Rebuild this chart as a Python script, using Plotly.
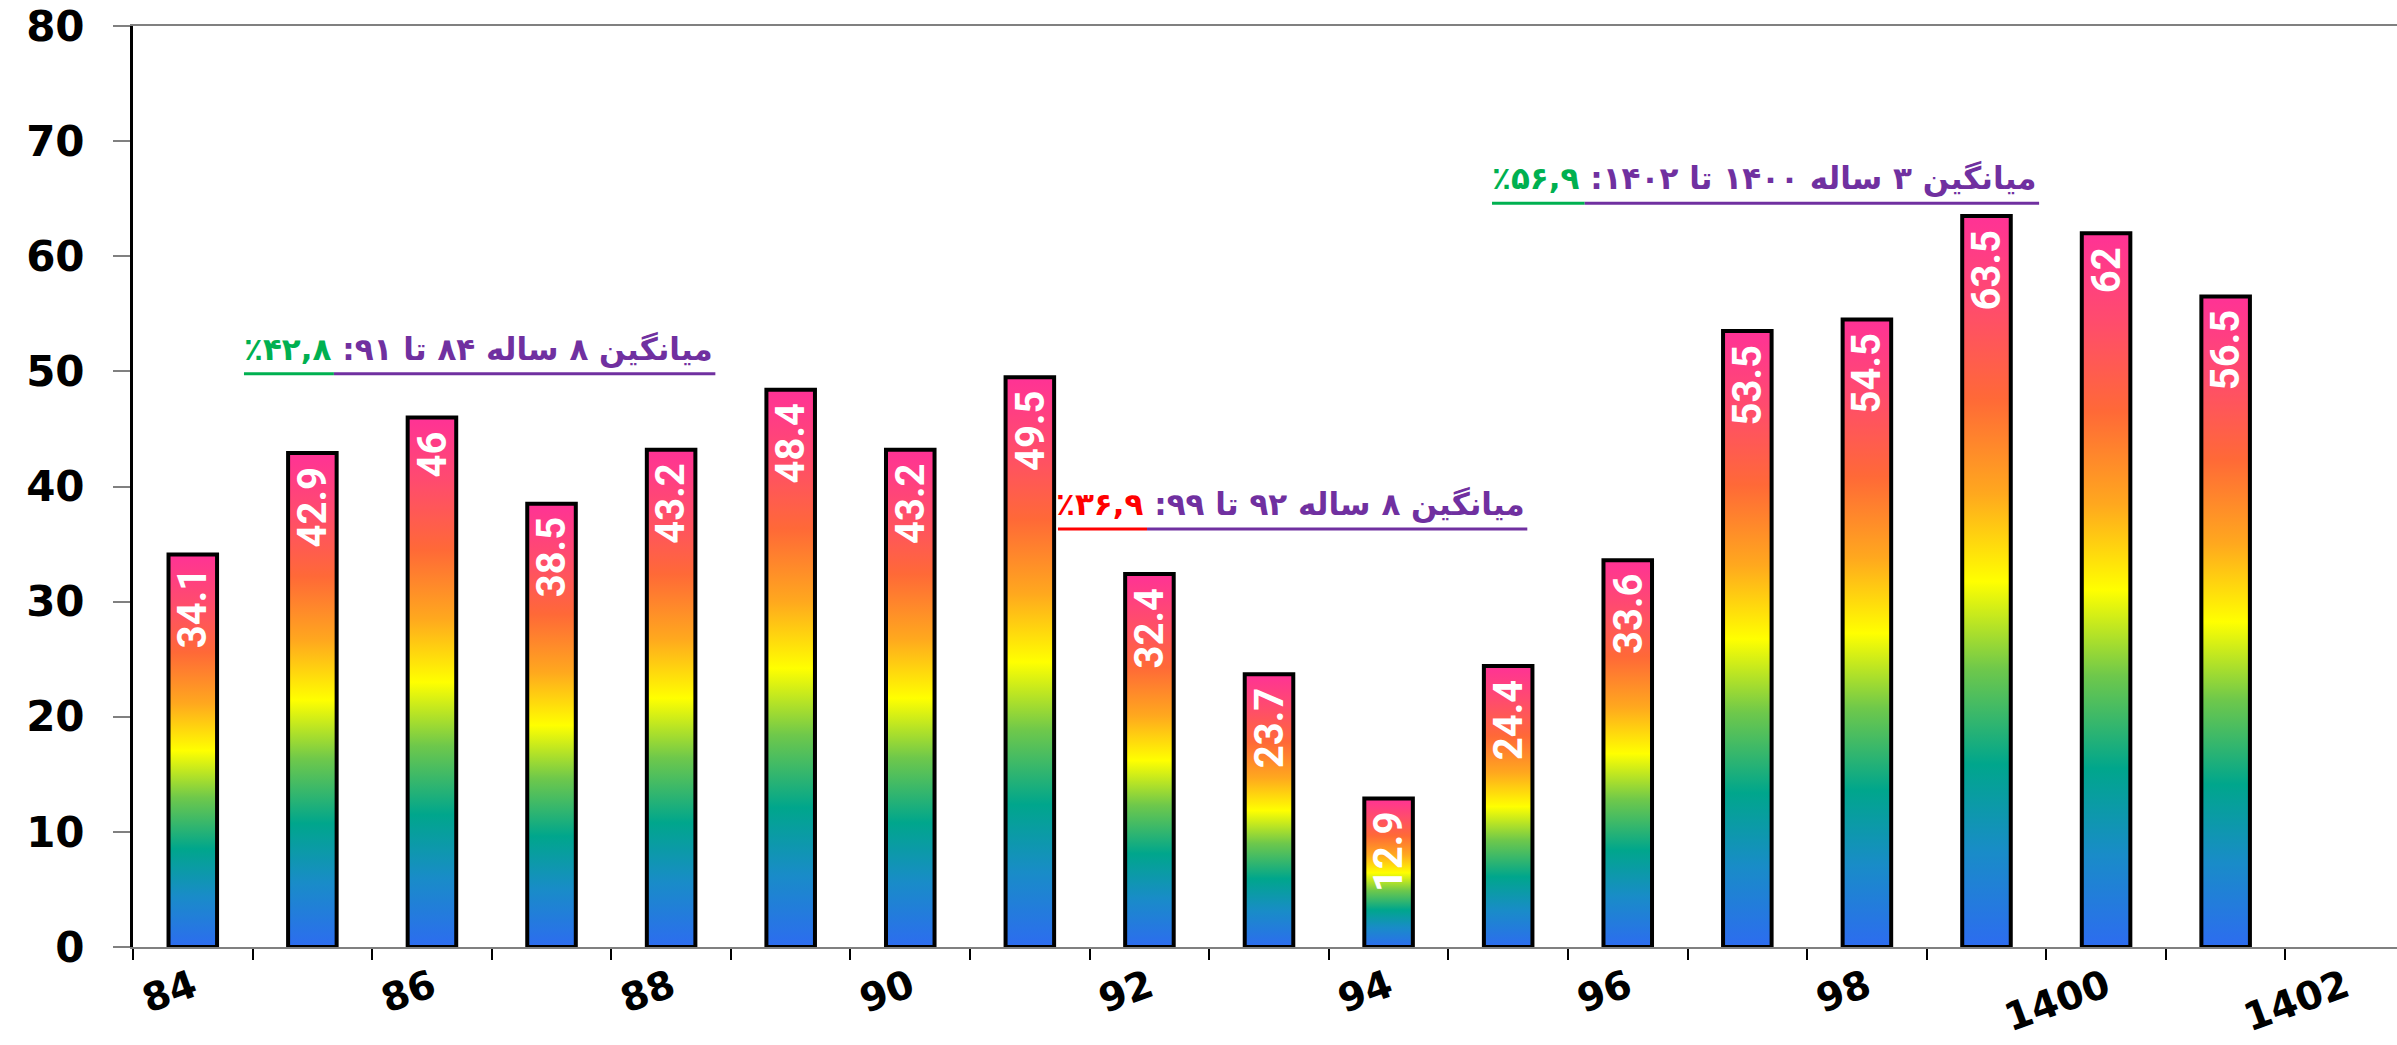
import plotly.graph_objects as go

# ---- data -------------------------------------------------------------
years = ["84", "85", "86", "87", "88", "89", "90", "91", "92", "93",
         "94", "95", "96", "97", "98", "99", "1400", "1401", "1402"]
values = [34.1, 42.9, 46, 38.5, 43.2, 48.4, 43.2, 49.5, 32.4, 23.7,
          12.9, 24.4, 33.6, 53.5, 54.5, 63.5, 62, 56.5]
# average notes: label text, value text, value colour
avg_texts = ["میانگین ۸ ساله ۸۴ تا ۹۱:",
             "میانگین ۸ ساله ۹۲ تا ۹۹:",
             "میانگین ۳ ساله ۱۴۰۰ تا ۱۴۰۲:"]
avg_values = ["۴۲,۸٪", "۳۶,۹٪", "۵۶,۹٪"]
avg_colors = ["#00B050", "#FF0000", "#00B050"]

# ---- style ------------------------------------------------------------
BAR_W = 0.406
PURPLE = "#7030A0"
RLM = "\u200f"
GRADIENT = [
    [0.00, "rgb(45,108,240)"],
    [0.13, "rgb(25,140,200)"],
    [0.25, "rgb(0,166,140)"],
    [0.38, "rgb(110,200,75)"],
    [0.50, "rgb(255,255,0)"],
    [0.62, "rgb(255,168,30)"],
    [0.75, "rgb(255,105,55)"],
    [0.88, "rgb(255,75,110)"],
    [1.00, "rgb(255,50,150)"],
]
LABEL_FONT = dict(family="Liberation Sans Narrow, Roboto", size=40,
                  color="white", weight="bold")
NOTE_FONT = dict(family="DejaVu Sans", size=31, color=PURPLE, weight="bold")

fig = go.Figure()

# gradient-filled bars (one polygon per bar so each gets its own gradient)
for i, v in enumerate(values):
    left, right = i - BAR_W / 2, i + BAR_W / 2
    fig.add_trace(go.Scatter(
        x=[left, left, right, right, left],
        y=[0, v, v, 0, 0],
        mode="lines",
        fill="toself",
        fillgradient=dict(type="vertical", colorscale=GRADIENT),
        line=dict(color="black", width=4),
        hoverinfo="skip",
        showlegend=False,
    ))
    # value label inside the top of the bar
    fig.add_annotation(
        x=i, y=v, text=f"{v:g}", textangle=-90,
        xanchor="center", yanchor="top", yshift=-12,
        showarrow=False, font=LABEL_FONT,
    )

# average notes with two-colour underlines: (x_left, x_split, x_right, y_line)
note_pos = [(0.428, 1.18, 4.37, 49.8),
            (7.235, 7.98, 11.16, 36.3),
            (10.865, 11.64, 15.44, 64.6)]
for (xl, xs, xr, yl), txt, val, col in zip(note_pos, avg_texts, avg_values, avg_colors):
    rich = txt + " " + f"<span style='color:{col}'>{val}{RLM}</span>"
    fig.add_annotation(
        x=xr, y=yl, text=rich, xanchor="right", yanchor="bottom",
        yshift=4, showarrow=False, font=NOTE_FONT,
    )
    fig.add_shape(type="line", x0=xl, x1=xs, y0=yl, y1=yl,
                  line=dict(color=col, width=3))
    fig.add_shape(type="line", x0=xs, x1=xr, y0=yl, y1=yl,
                  line=dict(color=PURPLE, width=3))

n = len(years)
fig.update_layout(
    width=2397, height=1045,
    margin=dict(l=133, r=0, t=26, b=98, autoexpand=False),
    paper_bgcolor="white", plot_bgcolor="white",
    showlegend=False,
    xaxis=dict(
        range=[-0.5, 18.433],
        automargin=False,
        tickmode="array",
        tickvals=list(range(0, n, 2)),
        ticktext=years[::2],
        tickangle=-20,
        tickfont=dict(family="DejaVu Sans", size=39, color="black", weight="bold"),
        ticks="outside", ticklen=0, tickcolor="rgba(0,0,0,0)",
        ticklabelstandoff=0,
        minor=dict(tickmode="array", tickvals=[k - 0.5 for k in range(n + 1)],
                   ticks="outside", ticklen=11, tickwidth=2, tickcolor="black"),
        showline=True, linecolor="#808080", linewidth=2, mirror=True,
        showgrid=False, zeroline=False,
    ),
    yaxis=dict(
        range=[0, 80],
        automargin=False,
        tickmode="array",
        tickvals=list(range(0, 81, 10)),
        tickfont=dict(family="DejaVu Sans", size=42, color="black", weight="bold"),
        ticks="outside", ticklen=17, tickwidth=2, tickcolor="#808080",
        ticklabelstandoff=20,
        showline=True, linecolor="black", linewidth=3,
        showgrid=False, zeroline=False,
    ),
)

fig.write_html("out.html")
